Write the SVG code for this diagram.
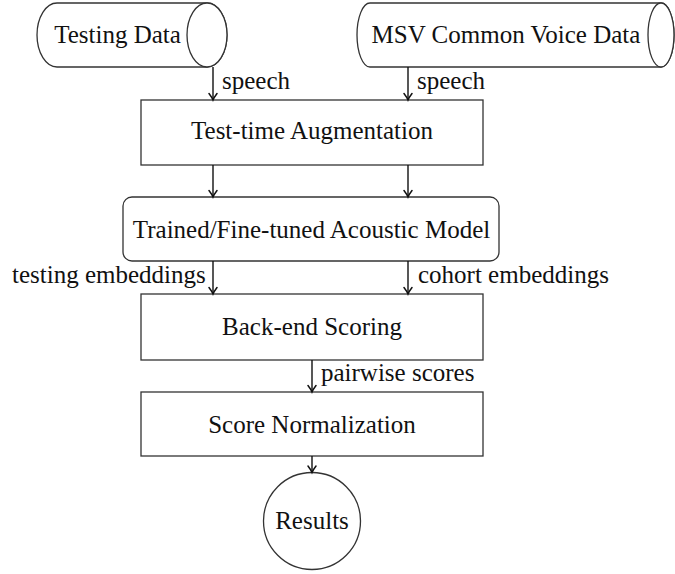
<svg xmlns="http://www.w3.org/2000/svg" width="675" height="574" viewBox="0 0 675 574">
<defs>
<style>
.shape{fill:#fff;stroke:#333;stroke-width:1.3}
.edge{fill:none;stroke:#111;stroke-width:1.4}
text{font-family:"Liberation Serif","Times New Roman",serif;font-size:25px;fill:#111}
.c{text-anchor:middle}
</style>
<marker id="arr" markerWidth="10" markerHeight="10" viewBox="-8 -5 10 10" refX="0" refY="0" orient="auto" markerUnits="userSpaceOnUse">
<path d="M-6.5,-4 Q-2.5,-1 0,0 Q-2.5,1 -6.5,4" fill="none" stroke="#111" stroke-width="1.5" stroke-linecap="round"/>
</marker>
</defs>
<rect width="675" height="574" fill="#fff"/>
<g id="testing-data">
<path class="shape" d="M57,3 L207,3 A20,32 0 0 1 207,67 L57,67 A20,32 0 0 1 57,3 Z"/>
<ellipse class="shape" cx="207" cy="35" rx="20" ry="32"/>
<text class="c" x="117.5" y="43">Testing Data</text>
</g>
<g id="msv-data">
<path class="shape" d="M370,3 L661,3 A13,32 0 0 1 661,67 L370,67 A13,32 0 0 1 370,3 Z"/>
<ellipse class="shape" cx="661" cy="35" rx="13" ry="32"/>
<text class="c" x="506" y="43">MSV Common Voice Data</text>
</g>
<g id="tta">
<rect class="shape" x="141" y="100" width="342" height="65"/>
<text class="c" x="312" y="139">Test-time Augmentation</text>
</g>
<g id="model">
<rect class="shape" x="123" y="197" width="376" height="64" rx="9"/>
<text class="c" x="311.5" y="238">Trained/Fine-tuned Acoustic Model</text>
</g>
<g id="backend">
<rect class="shape" x="141" y="294" width="342" height="66"/>
<text class="c" x="312" y="335">Back-end Scoring</text>
</g>
<g id="norm">
<rect class="shape" x="141" y="392" width="342" height="64"/>
<text class="c" x="312" y="433">Score Normalization</text>
</g>
<g id="results">
<circle class="shape" cx="312" cy="521" r="48.5"/>
<text class="c" x="312" y="529">Results</text>
</g>
<g id="connectors">
<line class="edge" x1="213" y1="67" x2="213" y2="100" marker-end="url(#arr)"/>
<line class="edge" x1="408" y1="67" x2="408" y2="100" marker-end="url(#arr)"/>
<line class="edge" x1="213" y1="165" x2="213" y2="197" marker-end="url(#arr)"/>
<line class="edge" x1="408" y1="165" x2="408" y2="197" marker-end="url(#arr)"/>
<line class="edge" x1="213" y1="261" x2="213" y2="294" marker-end="url(#arr)"/>
<line class="edge" x1="408" y1="261" x2="408" y2="294" marker-end="url(#arr)"/>
<line class="edge" x1="312" y1="360" x2="312" y2="392" marker-end="url(#arr)"/>
<line class="edge" x1="312" y1="456" x2="312" y2="472.5" marker-end="url(#arr)"/>
<text x="222" y="89">speech</text>
<text x="417" y="89">speech</text>
<text x="12" y="283">testing embeddings</text>
<text x="418" y="283">cohort embeddings</text>
<text x="321" y="381">pairwise scores</text>
</g>
</svg>
